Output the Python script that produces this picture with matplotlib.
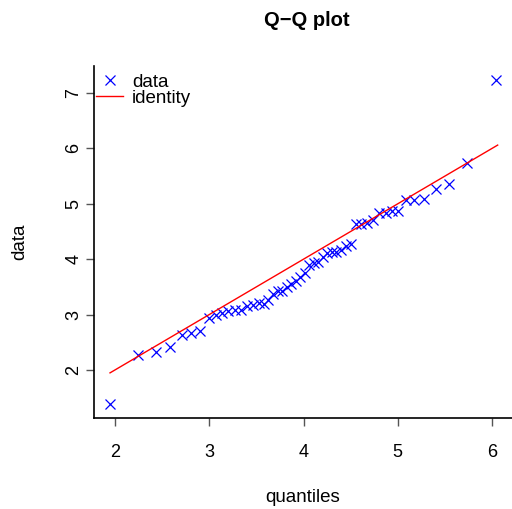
import numpy as np
import matplotlib
matplotlib.use("Agg")
from matplotlib import pyplot as plt

plt.rcParams['font.family'] = ['Liberation Sans', 'DejaVu Sans']

# theoretical quantiles (x) and sorted data (y)
quantiles = [1.947, 2.244, 2.435, 2.584, 2.711, 2.806, 2.902, 2.997, 3.072, 3.135,
             3.199, 3.273, 3.337, 3.401, 3.464, 3.528, 3.581, 3.623, 3.676, 3.729,
             3.772, 3.825, 3.867, 3.920, 3.963, 4.016, 4.058, 4.111, 4.154, 4.207,
             4.249, 4.302, 4.345, 4.398, 4.451, 4.504, 4.557, 4.610, 4.674, 4.737,
             4.801, 4.875, 4.939, 5.003, 5.088, 5.172, 5.279, 5.406, 5.544, 5.735,
             6.042]
data = [1.385, 2.271, 2.325, 2.416, 2.633, 2.669, 2.705, 2.940, 2.995, 3.031,
        3.067, 3.085, 3.085, 3.157, 3.175, 3.212, 3.193, 3.266, 3.374, 3.429,
        3.429, 3.501, 3.555, 3.609, 3.682, 3.754, 3.899, 3.935, 3.953, 4.043,
        4.116, 4.134, 4.134, 4.170, 4.242, 4.278, 4.640, 4.640, 4.658, 4.712,
        4.839, 4.839, 4.875, 4.875, 5.074, 5.074, 5.092, 5.273, 5.363, 5.743,
        7.244]
identity_ends = [1.947, 6.06]
xticks = [2, 3, 4, 5, 6]
yticks = [2, 3, 4, 5, 6, 7]

fig = plt.figure(figsize=(5.12, 5.09), dpi=100)
ax = fig.add_axes([94/512, 1 - 418/509, 1 - 94/512, (418 - 66)/509])

ax.plot(quantiles, data, linestyle='none', marker='x', color='blue',
        markersize=7.5, markeredgewidth=0.9, label='data')
ax.plot(identity_ends, identity_ends, color='red', linewidth=1.0, label='identity')

ax.set_xlim(1.777, 6.212)
ax.set_ylim(1.132, 7.488)
ax.set_xticks(xticks)
ax.set_yticks(yticks)
ax.spines['top'].set_visible(False)
ax.spines['right'].set_visible(False)
for s in ('left', 'bottom'):
    ax.spines[s].set_linewidth(1.2)
ax.tick_params(direction='out', length=6, width=1, colors='#555555',
               labelcolor='black', labelsize=13)
ax.tick_params(axis='x', pad=13)
ax.tick_params(axis='y', pad=2.5)
for lab in ax.get_yticklabels():
    lab.set_rotation(90)
    lab.set_va('center')

ax.set_xlabel('quantiles', fontsize=13.5, labelpad=20)
ax.set_ylabel('data', fontsize=13.5, labelpad=26.5)
fig.text(307/512, 1 - 21/509, 'Q\u2212Q plot', ha='center', va='center',
         fontsize=14.5, fontweight='bold')

ax.legend(loc='upper left', frameon=False, fontsize=13.5, handlelength=1.4,
          handletextpad=0.5, labelspacing=-0.05, borderaxespad=0.0,
          borderpad=0.2, markerscale=0.9, bbox_to_anchor=(-0.003, 0.989))

fig.savefig('out.png', dpi=100)
